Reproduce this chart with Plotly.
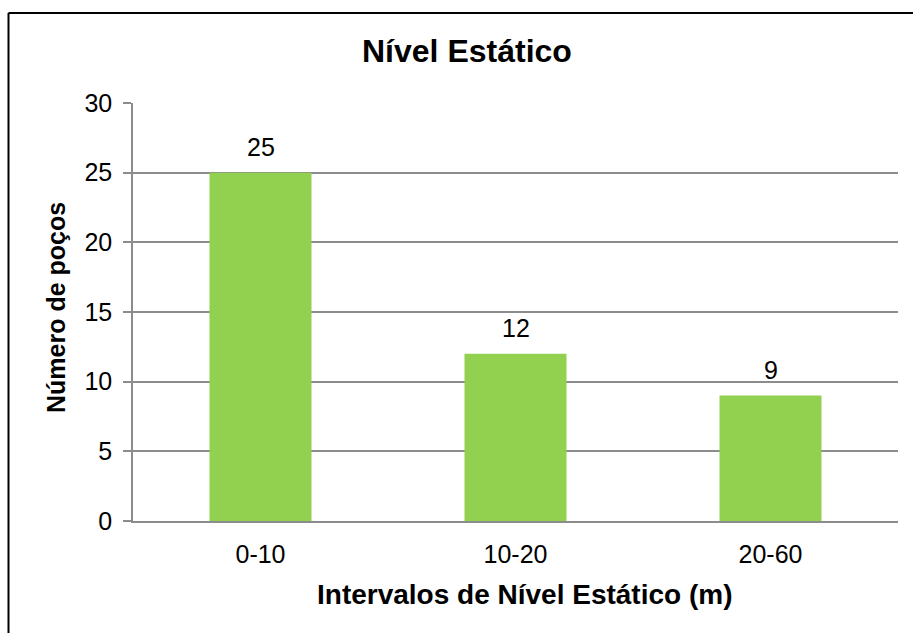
import plotly.graph_objects as go

# Water wells grouped by static water level interval
categories = ["0-10", "10-20", "20-60"]
wells = [25, 12, 9]
y_ticks = [0, 5, 10, 15, 20, 25, 30]

FONT = "Liberation Sans, Arial, sans-serif"
BAR_GREEN = "#92D050"
GRID_GRAY = "#8C8C8C"

# plot area geometry (pixels) in the 913x633 canvas
W, H = 913, 633
L, R, T, B = 133, 15, 103, 112
pw, ph = W - L - R, H - T - B


def px_x(x):
    return (x - L) / pw


def px_y(y):
    return (H - B - y) / ph


fig = go.Figure()
fig.add_trace(go.Bar(
    x=categories,
    y=wells,
    marker=dict(color=BAR_GREEN, line=dict(width=0)),
    width=0.4,
    hoverinfo="x+y",
))

# value labels above each bar
for c, v in zip(categories, wells):
    fig.add_annotation(
        x=c, y=v, xref="x", yref="y",
        text=str(v), showarrow=False,
        yanchor="bottom", yshift=10,
        font=dict(family=FONT, size=25, color="#000000"),
    )

# chart title
fig.add_annotation(
    x=px_x(467), y=px_y(51), xref="paper", yref="paper",
    text="<b>Nível Estático</b>", showarrow=False,
    xanchor="center", yanchor="middle",
    font=dict(family=FONT, size=32, color="#000000"),
)
# axis titles
fig.add_annotation(
    x=px_x(524), y=px_y(594), xref="paper", yref="paper",
    text="<b>Intervalos de Nível Estático (m)</b>", showarrow=False,
    xanchor="center", yanchor="middle",
    font=dict(family=FONT, size=28, color="#000000"),
)
fig.add_annotation(
    x=px_x(56), y=px_y(308), xref="paper", yref="paper",
    text="<b>Número de poços</b>", showarrow=False, textangle=-90,
    xanchor="center", yanchor="middle",
    font=dict(family=FONT, size=25, color="#000000"),
)

# chart frame (top and left edges fall inside the canvas)
fig.add_shape(type="line", xref="paper", yref="paper",
              x0=px_x(8.5), x1=px_x(930), y0=px_y(13), y1=px_y(13),
              line=dict(color="#000000", width=2))
fig.add_shape(type="line", xref="paper", yref="paper",
              x0=px_x(8.5), x1=px_x(8.5), y0=px_y(13), y1=px_y(650),
              line=dict(color="#000000", width=2))

fig.update_layout(
    width=W, height=H,
    margin=dict(l=L, r=R, t=T, b=B),
    paper_bgcolor="#FFFFFF",
    plot_bgcolor="#FFFFFF",
    showlegend=False,
    font=dict(family=FONT, size=25, color="#000000"),
    bargap=0.6,
)
fig.update_xaxes(
    type="category",
    showgrid=False,
    showline=True, linecolor=GRID_GRAY, linewidth=1.5,
    ticks="", ticklabelstandoff=10,
    tickfont=dict(family=FONT, size=25, color="#000000"),
)
fig.update_yaxes(
    range=[0, 30],
    tickvals=y_ticks,
    showgrid=True, gridcolor=GRID_GRAY, gridwidth=1.5,
    zeroline=False,
    showline=True, linecolor=GRID_GRAY, linewidth=1.5,
    ticks="outside", ticklen=8, tickcolor=GRID_GRAY, tickwidth=1.5,
    ticklabelstandoff=6,
    tickfont=dict(family=FONT, size=25, color="#000000"),
)

fig.write_html("out.html")
